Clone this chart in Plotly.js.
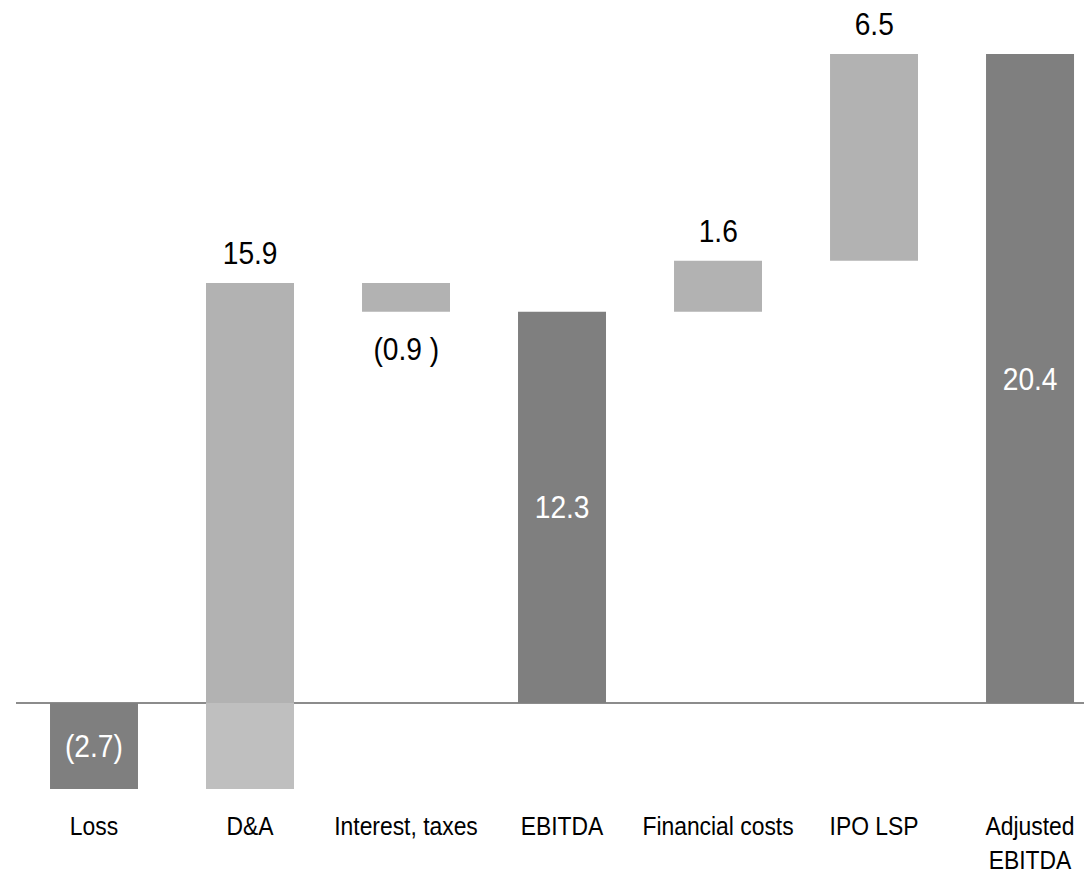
<!DOCTYPE html>
<html>
<head>
<meta charset="utf-8">
<script src="https://cdn.plot.ly/plotly-3.0.1.min.js"></script>
<style>html,body{margin:0;padding:0;background:#fff;}#chart{width:1084px;height:874px;}</style>
</head>
<body>
<div id="chart"></div>
<script>
// Data
var categories = ["Loss", "D&A", "Interest, taxes", "EBITDA", "Financial costs", "IPO LSP", "Adjusted<br>EBITDA"];
var values = [-2.7, 15.9, -0.9, 12.3, 1.6, 6.5, 20.4];
var kinds = ["total", "delta", "delta", "total", "delta", "delta", "total"];
var valueLabels = ["(2.7)", "15.9", "(0.9 )", "12.3", "1.6", "6.5", "20.4"];

var DARK = "#7f7f7f", LIGHT = "#b2b2b2", LIGHT_NEG = "#bfbfbf";
var NUMFONT = "Liberation Sans, Arial, sans-serif";
var NUMSIZE = 32;

// compute floating bars
var running = 0;
var segX = [], segBase = [], segH = [], segCol = [];
var annotations = [];
for (var i = 0; i < values.length; i++) {
  var lo, hi;
  if (kinds[i] === "total") {
    lo = Math.min(0, values[i]); hi = Math.max(0, values[i]);
    running = values[i];
    segX.push(categories[i]); segBase.push(lo); segH.push(hi - lo); segCol.push(DARK);
    annotations.push({x: categories[i], y: (lo + hi) / 2, text: valueLabels[i], showarrow: false,
      font: {color: "#ffffff", size: NUMSIZE, family: NUMFONT}, yanchor: "middle"});
  } else {
    var start = running, end = running + values[i];
    lo = Math.min(start, end); hi = Math.max(start, end);
    running = end;
    if (lo < 0 && hi > 0) {
      segX.push(categories[i]); segBase.push(lo); segH.push(-lo); segCol.push(LIGHT_NEG);
      segX.push(categories[i]); segBase.push(0); segH.push(hi); segCol.push(LIGHT);
    } else {
      segX.push(categories[i]); segBase.push(lo); segH.push(hi - lo); segCol.push(LIGHT);
    }
    if (values[i] >= 0) {
      annotations.push({x: categories[i], y: hi, text: valueLabels[i], showarrow: false, yanchor: "bottom", yshift: 10,
        font: {color: "#000000", size: NUMSIZE, family: NUMFONT}});
    } else {
      annotations.push({x: categories[i], y: lo, text: valueLabels[i], showarrow: false, yanchor: "top", yshift: -17,
        font: {color: "#000000", size: NUMSIZE, family: NUMFONT}});
    }
  }
}

var trace = {
  type: "bar",
  x: segX,
  y: segH,
  base: segBase,
  marker: {color: segCol, line: {width: 0}},
  width: 0.564,
  hoverinfo: "skip",
  showlegend: false
};

var layout = {
  width: 1084, height: 874,
  margin: {l: 16, r: 0, t: 54, b: 85, autoexpand: false},
  paper_bgcolor: "#ffffff", plot_bgcolor: "#ffffff",
  barmode: "overlay",
  xaxis: {
    type: "category",
    categoryorder: "array", categoryarray: categories,
    range: [-0.5, 6.346],
    showgrid: false, zeroline: false, showline: false, ticks: "",
    ticklabelstandoff: 19,
    automargin: false,
    tickfont: {family: "Liberation Sans Narrow, Arial Narrow, Liberation Sans, sans-serif", size: 26, color: "#000000"}
  },
  yaxis: {
    range: [-2.7, 20.4],
    showgrid: false, showticklabels: false, ticks: "", showline: false,
    zeroline: true, zerolinecolor: "#8c8c8c", zerolinewidth: 2,
    automargin: false
  },
  annotations: annotations,
  font: {family: NUMFONT}
};

function condense(el, s) {
  var bb = el.getBBox();
  var tl = el.transform.baseVal.consolidate();
  var m = tl ? tl.matrix : {a: 1, e: 0};
  var cx = m.a * (bb.x + bb.width / 2) + m.e;
  var prev = el.getAttribute("transform") || "";
  el.setAttribute("transform", "translate(" + cx + ",0) scale(" + s + ",1) translate(" + (-cx) + ",0) " + prev);
}

Plotly.newPlot("chart", [trace], layout, {displayModeBar: false, staticPlot: true}).then(function (gd) {
  // narrow typeface look
  gd.querySelectorAll(".xtick text").forEach(function (el) { condense(el, 0.88); });
  gd.querySelectorAll(".annotation-text").forEach(function (el) { condense(el, 0.88); });
});
</script>
</body>
</html>
